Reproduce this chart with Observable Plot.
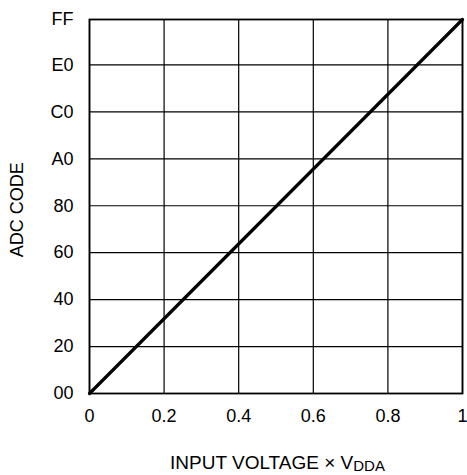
<!DOCTYPE html>
<html><head><meta charset="utf-8">
<script src="https://cdn.jsdelivr.net/npm/d3@7"></script>
<script src="https://cdn.jsdelivr.net/npm/@observablehq/plot@0.6"></script>
<style>body{margin:0;background:#fff;} svg{font-family:"Liberation Sans",Arial,sans-serif;}</style>
</head><body><div id="chart"></div>
<script>
const xTicks = [0, 0.2, 0.4, 0.6, 0.8, 1];
const yTicks = [0, 32, 64, 96, 128, 160, 192, 224, 255];
const yTickLabels = ["00", "20", "40", "60", "80", "A0", "C0", "E0", "FF"];
const inputVoltage = [0, 1];
const adcCode = [0, 255];
const line = inputVoltage.map((v, i) => ({x: v, y: adcCode[i]}));

const chart = Plot.plot({
  width: 467, height: 475,
  marginLeft: 89, marginRight: 5, marginTop: 19, marginBottom: 82,
  style: {fontFamily: "Liberation Sans, Arial, sans-serif", fontSize: "18px", color: "#000", background: "#fff"},
  x: {domain: [0, 1], label: null},
  y: {domain: [0, 255], label: null},
  marks: [
    Plot.gridX(xTicks, {stroke: "#000", strokeOpacity: 1, strokeWidth: 1.2}),
    Plot.gridY(yTicks, {stroke: "#000", strokeOpacity: 1, strokeWidth: 1.2}),
    Plot.frame({stroke: "#000", strokeWidth: 1.8}),
    Plot.line(line, {x: "x", y: "y", stroke: "#000", strokeWidth: 3.2}),
    Plot.axisX(xTicks, {tickSize: 0, tickPadding: 16, fontSize: 18, label: null, tickFormat: d => String(d)}),
    Plot.axisY(yTicks, {tickSize: 0, tickPadding: 16, fontSize: 18, label: null, tickFormat: d => yTickLabels[yTicks.indexOf(d)]})
  ]
});
document.getElementById("chart").appendChild(chart);
d3.select(chart).selectAll("g[aria-label='x-axis tick label'], g[aria-label='y-axis tick label']")
  .attr("font-size", 18);

const sx = chart.scale("x"), sy = chart.scale("y");
const svg = d3.select(chart);
const xl = svg.append("text")
  .attr("x", sx.apply(0.5) + 2).attr("y", 469)
  .attr("text-anchor", "middle").attr("font-size", 19).attr("fill", "#000");
xl.append("tspan").text("INPUT VOLTAGE × V");
xl.append("tspan").attr("font-size", 15).attr("dy", 2).text("DDA");
svg.append("text")
  .attr("transform", `translate(23,${sy.apply(125)}) rotate(-90)`)
  .attr("text-anchor", "middle").attr("font-size", 18).attr("fill", "#000")
  .text("ADC CODE");
</script>
</body></html>
